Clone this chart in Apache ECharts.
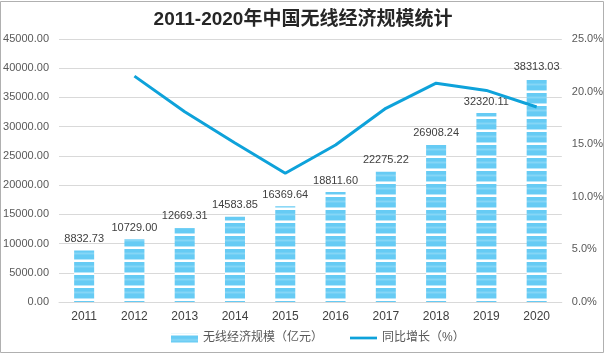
<!DOCTYPE html>
<html>
<head>
<meta charset="utf-8">
<script src="https://cdn.jsdelivr.net/npm/echarts@6/dist/echarts.min.js"></script>
<style>
html,body{margin:0;padding:0;background:#fff;}
#c{width:606px;height:355px;}
</style>
</head>
<body>
<div id="c"></div>
<script>
var years = ['2011','2012','2013','2014','2015','2016','2017','2018','2019','2020'];
var scaleValues = [8832.73, 10729.00, 12669.31, 14583.85, 16369.64, 18811.60, 22275.22, 26908.24, 32320.11, 38313.03];
var growthValues = [null, 21.47, 18.08, 15.11, 12.24, 14.92, 18.41, 20.80, 20.11, 18.54];
var seriesNames = ['无线经济规模（亿元）', '同比增长（%）'];
var titleText = '2011-2020年中国无线经济规模统计';

// striped pattern for bars
var pc = document.createElement('canvas');
pc.width = 4; pc.height = 13;
var pctx = pc.getContext('2d');
var rows = ['#ffffff','#ffffff','#66cbf4','#66cbf4','#66cbf4','#74d0f5','#86d6f6','#74d0f5','#66cbf4','#66cbf4','#66cbf4','#66cbf4','#b5e6fa'];
for (var i = 0; i < rows.length; i++) { pctx.fillStyle = rows[i]; pctx.fillRect(0, i, 4, 1); }

var fontFam = '"Liberation Sans", "Noto Sans CJK SC", sans-serif';
var chart = echarts.init(document.getElementById('c'), null, {renderer: 'canvas'});
chart.setOption({
  animation: false,
  backgroundColor: '#fff',
  textStyle: {fontFamily: fontFam},
  title: {
    text: titleText, left: 'center', top: 5,
    textStyle: {fontSize: 19, fontWeight: 'bold', color: '#262626', fontFamily: fontFam}
  },
  graphic: [{
    type: 'rect', silent: true, z: 100,
    shape: {x: 0.5, y: 1.5, width: 603, height: 351},
    style: {fill: 'none', stroke: '#b0b0b0', lineWidth: 1}
  }],
  legend: {
    left: 166, top: 327, itemGap: 27, itemWidth: 27, itemHeight: 9,
    textStyle: {fontSize: 12, color: '#595959', fontFamily: fontFam},
    data: [
      {name: seriesNames[0], icon: 'rect'},
      {name: seriesNames[1], icon: 'path://M0,0 L10,0 L10,1 L0,1 Z', itemStyle: {color: '#0ea2da'}}
    ]
  },
  grid: {left: 59, right: 44, top: 39, bottom: 53},
  xAxis: {
    type: 'category', data: years,
    axisLine: {show: true, lineStyle: {color: '#d9d9d9'}},
    axisTick: {show: false},
    axisLabel: {fontSize: 12, color: '#404040', margin: 9, fontFamily: fontFam}
  },
  yAxis: [{
    type: 'value', min: 0, max: 45000, interval: 5000,
    axisLabel: {fontSize: 11, color: '#595959', margin: 10, formatter: function(v){return v.toFixed(2);}},
    splitLine: {lineStyle: {color: '#d9d9d9'}},
    axisLine: {show: false}, axisTick: {show: false}
  }, {
    type: 'value', min: 0, max: 25, interval: 5,
    axisLabel: {fontSize: 11, color: '#595959', margin: 10, formatter: function(v){return v.toFixed(1) + '%';}},
    splitLine: {show: false},
    axisLine: {show: false}, axisTick: {show: false}
  }],
  series: [{
    name: seriesNames[0], type: 'bar', data: scaleValues, barWidth: 20,
    itemStyle: {color: {image: pc, repeat: 'repeat'}},
    label: {show: true, position: 'top', distance: 6, fontSize: 11, color: '#404040',
      formatter: function(p){return p.value.toFixed(2);}}
  }, {
    name: seriesNames[1], type: 'line', yAxisIndex: 1, data: growthValues,
    symbol: 'none', lineStyle: {color: '#0ea2da', width: 3},
    itemStyle: {color: '#0ea2da'}
  }]
});
</script>
</body>
</html>
